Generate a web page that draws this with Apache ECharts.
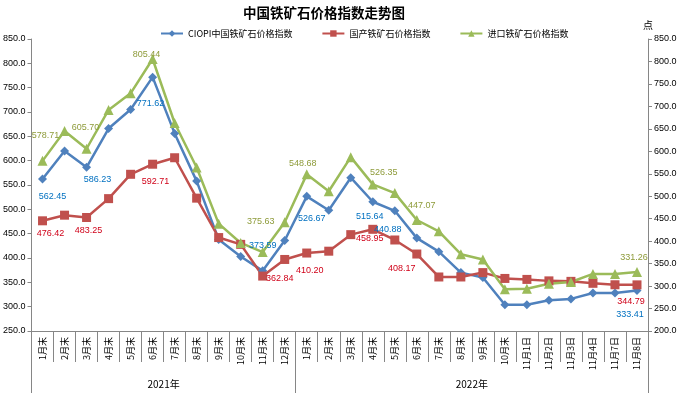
<!DOCTYPE html>
<html>
<head>
<meta charset="utf-8">
<script src="https://cdn.jsdelivr.net/npm/echarts@6/dist/echarts.min.js"></script>
<style>html,body{margin:0;padding:0;background:#fff}#c{width:681px;height:393px}</style>
</head>
<body>
<div id="c"></div>
<script>
var categories = ['1月末','2月末','3月末','4月末','5月末','6月末','7月末','8月末','9月末','10月末','11月末','12月末',
  '1月末','2月末','3月末','4月末','5月末','6月末','7月末','8月末','9月末','10月末',
  '11月1日','11月2日','11月3日','11月4日','11月7日','11月8日'];
var yearGroups = ['2021年','2022年'];
var yearSizes = [12, 16];
var ciopi = [562.45,620,586.23,666,705,771.62,656,558,438,403,373.59,436,526.67,498,565,515.64,497,440.88,413,370,360,304,304,313,316,328,328,333.41];
var domestic = [476.42,488,483.25,522,572,592.71,606,523,442,428,362.84,397,410.20,414,448,458.95,437,408.17,361,361,370,358,356,353,352,348,345,344.79];
var imported = [578.71,645,605.70,692,729,805.44,663,564,439,396,375.63,442,548.68,511,587,526.35,507,447.07,422,371,359,293,294,305,309,327,327,331.26];
var seriesNames = ['CIOPI中国铁矿石价格指数','国产铁矿石价格指数','进口铁矿石价格指数'];
var leftTicks = {min:250,max:850,interval:50};
var rightTicks = {min:200,max:850,interval:50};

// label placement (offsets from point centre), kept apart from the data
var labelOffsets = [
  {0:[10,18],2:[11,12],5:[-2,26],10:[0,-25],12:[5,22],15:[-3,15],17:[-29,-9],27:[-7,24]},
  {0:[8,13],2:[2,13],5:[3,17],10:[17,2],12:[3,17],15:[-3,9],17:[-15,14],27:[-6,17]},
  {0:[3,-25],2:[-1,-21],5:[-6,-5],10:[-2,-31],12:[-4,-11],15:[11,-12],17:[5,-14],27:[-3,-15]}
];
var labelColors = ['#0070C0','#D00018','#8E9B3A'];
var lineColors = ['#4F81BD','#C0504D','#9BBB59'];
var symbols = ['diamond','rect','triangle'];
var symbolSizes = [9,9,10];

function build(values, k){
  return values.map(function(v,i){
    var off = labelOffsets[k][i];
    if(!off) return v;
    return {value:v, label:{show:true, position:'inside', offset:off, color:labelColors[k], fontSize:9,
      formatter:function(p){return Number(p.value).toFixed(2);}}};
  });
}

var bounds=[0], centers=[];
yearSizes.reduce(function(acc,s){ centers.push(acc+s/2); bounds.push(acc+s); return acc+s; },0);

var axisColor = '#868686';
var chart = echarts.init(document.getElementById('c'));
chart.setOption({
  animation:false,
  textStyle:{fontFamily:'"Liberation Sans", Arial, "Noto Sans CJK SC", sans-serif'},
  title:{text:'中国铁矿石价格指数走势图', left:238, top:1,
    textStyle:{fontSize:13.5, fontWeight:'bold', color:'#000', fontFamily:'"Noto Sans CJK SC", sans-serif'}},
  legend:{left:155, top:24, itemWidth:22, itemHeight:8, itemGap:29,
    textStyle:{fontSize:9, color:'#000', fontFamily:'"Noto Sans CJK SC", sans-serif'},
    data:seriesNames},
  grid:{left:29, right:33, top:39, bottom:62, containLabel:false},
  xAxis:[{
    type:'category', data:categories, boundaryGap:true, position:'bottom',
    axisLine:{lineStyle:{color:axisColor, width:1}},
    axisTick:{show:true, interval:0, length:31, lineStyle:{color:axisColor}},
    axisLabel:{interval:0, rotate:90, fontSize:9, margin:6, color:'#000', fontFamily:'"Noto Sans CJK SC", sans-serif'},
    splitLine:{show:false}
  },{
    type:'value', min:0, max:bounds[bounds.length-1], position:'bottom',
    axisLine:{show:false}, splitLine:{show:false},
    axisTick:{show:true, customValues:bounds, length:62, lineStyle:{color:axisColor}},
    axisLabel:{show:true, customValues:centers, margin:48, fontSize:10, color:'#000',
      fontFamily:'"Noto Sans CJK SC", sans-serif',
      formatter:function(v){ var i=centers.indexOf(v); return i>=0?yearGroups[i]:''; }}
  }],
  yAxis:[{
    type:'value', position:'left', min:leftTicks.min, max:leftTicks.max, interval:leftTicks.interval,
    axisLine:{show:true, lineStyle:{color:axisColor}},
    axisTick:{show:true, length:4, lineStyle:{color:axisColor}},
    axisLabel:{fontSize:9, color:'#000', margin:6, formatter:function(v){return v.toFixed(1);}},
    splitLine:{show:false}
  },{
    type:'value', position:'right', min:rightTicks.min, max:rightTicks.max, interval:rightTicks.interval,
    name:'点', nameLocation:'end', nameGap:9,
    nameTextStyle:{fontSize:10, color:'#000', fontFamily:'"Noto Sans CJK SC", sans-serif'},
    axisLine:{show:true, lineStyle:{color:axisColor}},
    axisTick:{show:true, length:4, lineStyle:{color:axisColor}},
    axisLabel:{fontSize:9, color:'#000', margin:6, formatter:function(v){return v.toFixed(1);}},
    splitLine:{show:false}
  }],
  series:[ciopi, domestic, imported].map(function(arr,k){
    return {
      name:seriesNames[k], type:'line', xAxisIndex:0, yAxisIndex:(k===2?1:0),
      data:build(arr,k), symbol:symbols[k], symbolSize:symbolSizes[k], showAllSymbol:true,
      lineStyle:{color:lineColors[k], width:2.5},
      itemStyle:{color:lineColors[k]},
      label:{show:false}, emphasis:{disabled:true}
    };
  })
});
</script>
</body>
</html>
